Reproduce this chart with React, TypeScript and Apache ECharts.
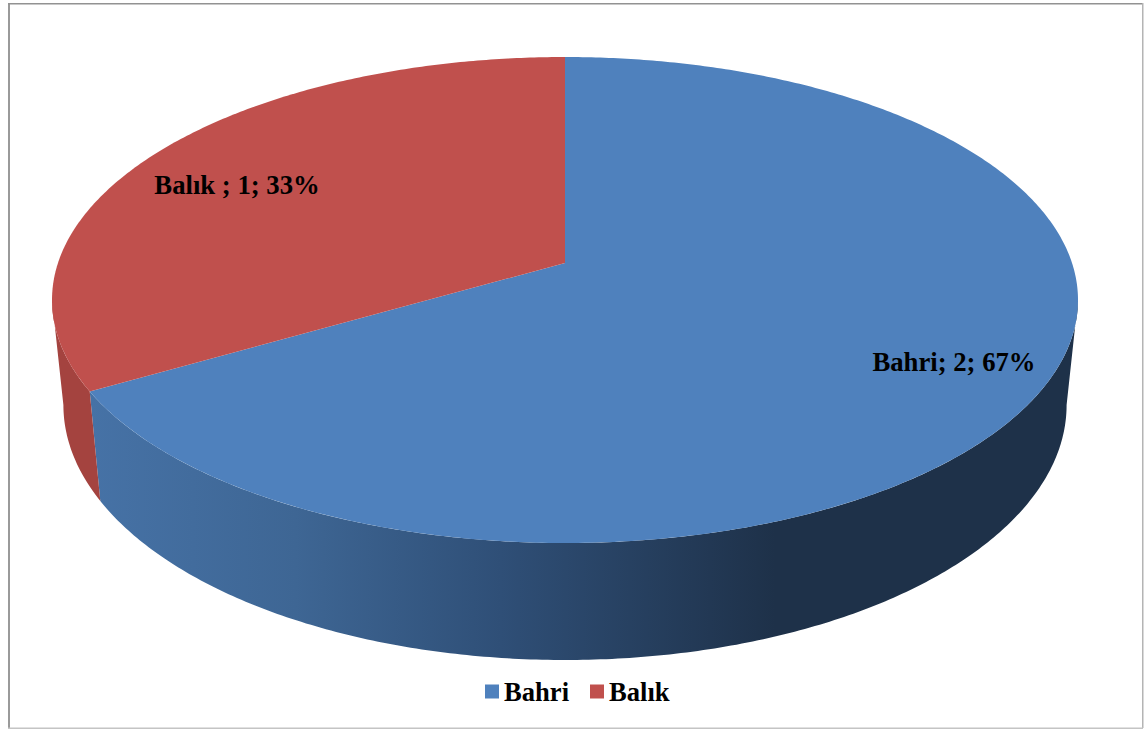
import React, { useEffect, useRef } from "react";
import * as echarts from "echarts";

const categories = ["Bahri", "Balık"];
const labelNames = ["Bahri", "Balık "];
const values = [2, 1];
const topColors = ["#4f81bd", "#c0504d"];
const total = values.reduce((a, b) => a + b, 0);

// Projected discs of the pie: rim of the top face and rim of the base.
const TOP = { cx: 565, cy: 300, rx: 513, ry: 243 };
const BASE = { cx: 565, cy: 405, rx: 501.6, ry: 255 };
// Perspective tilt: the disc centre lands above the centre of the projected ellipse.
const APEX_SHIFT = 37;
const TILT = APEX_SHIFT / TOP.ry;
const SQUEEZE = Math.sqrt(1 - TILT * TILT);
const SILHOUETTE = Math.PI / 2 + Math.asin(TILT);

type Rim = { cx: number; cy: number; rx: number; ry: number };

function rimPoint(rim: Rim, t: number): number[] {
  const u = Math.sin(t);
  const v = -Math.cos(t);
  const d = 1 - TILT * v;
  return [rim.cx + (rim.rx * SQUEEZE * u) / d, rim.cy + (rim.ry * (v - TILT)) / d];
}

function arc(rim: Rim, from: number, to: number): number[][] {
  const steps = Math.max(2, Math.ceil(Math.abs(to - from) / 0.01));
  const out: number[][] = [];
  for (let i = 0; i <= steps; i++) out.push(rimPoint(rim, from + ((to - from) * i) / steps));
  return out;
}

// Shading of the visible wall, running left to right.
const wallFills: any[] = [
  {
    type: "linear",
    global: true,
    x: 90,
    y: 0,
    x2: 775,
    y2: 0,
    colorStops: [
      { offset: 0, color: "#4672a6" },
      { offset: 0.3, color: "#3e6694" },
      { offset: 0.6, color: "#2f4f77" },
      { offset: 1, color: "#1e3149" },
    ],
  },
  "#a4433f",
];

const labelAnchors = [
  [954, 362],
  [237, 185],
];

function sliceRenderer(index: number) {
  return (_params: any, api: any) => {
    const before = values.slice(0, index).reduce((a, b) => a + b, 0);
    const start = (before / total) * Math.PI * 2;
    const end = ((before + Number(api.value(0))) / total) * Math.PI * 2;
    const wallStart = Math.max(start, SILHOUETTE);
    const wallEnd = Math.min(end, Math.PI * 2 - SILHOUETTE);
    const apex = [TOP.cx, TOP.cy - APEX_SHIFT];
    const pct = Math.round((Number(api.value(0)) / total) * 100);
    return {
      type: "group",
      children: [
        {
          type: "polygon",
          shape: { points: [...arc(TOP, wallStart, wallEnd), ...arc(BASE, wallEnd, wallStart)] },
          style: { fill: wallFills[index] },
        },
        {
          type: "polygon",
          shape: { points: [apex, ...arc(TOP, start, end)] },
          style: { fill: topColors[index] },
        },
        {
          type: "text",
          x: labelAnchors[index][0],
          y: labelAnchors[index][1],
          style: {
            text: `${labelNames[index]}; ${Number(api.value(0))}; ${pct}%`,
            fill: "#000",
            font: 'bold 26.7px "Liberation Serif"',
            align: "center",
            verticalAlign: "middle",
          },
        },
      ],
    };
  };
}

const frameColor = "#929292";

export default function App() {
  const ref = useRef<HTMLDivElement>(null);
  useEffect(() => {
    const chart = echarts.init(ref.current!, null, { renderer: "svg" });
    chart.setOption({
      animation: false,
      backgroundColor: "#fff",
      legend: {
        data: categories,
        left: 485,
        top: 678,
        padding: 0,
        icon: "rect",
        itemWidth: 14,
        itemHeight: 14,
        itemGap: 21,
        selectedMode: false,
        textStyle: { color: "#000", fontFamily: "Liberation Serif", fontWeight: "bold", fontSize: 26.6 },
      },
      graphic: [
        { type: "rect", shape: { x: 8, y: 3, width: 2, height: 725 }, style: { fill: "#9a9a9a" } },
        { type: "rect", shape: { x: 8, y: 3, width: 1135, height: 1.5 }, style: { fill: frameColor } },
        { type: "rect", shape: { x: 1142, y: 3, width: 1.5, height: 725 }, style: { fill: "#b4b4b4" } },
        { type: "rect", shape: { x: 8, y: 727.5, width: 1135, height: 1.5 }, style: { fill: "#c4c4c4" } },
      ],
      series: categories.map((name, i) => ({
        type: "custom",
        name,
        coordinateSystem: "none",
        itemStyle: { color: topColors[i] },
        data: [{ name, value: values[i] }],
        renderItem: sliceRenderer(i),
      })),
    });
    return () => chart.dispose();
  }, []);
  return <div ref={ref} style={{ position: "absolute", left: 0, top: 0, width: 1144, height: 729 }} />;
}
